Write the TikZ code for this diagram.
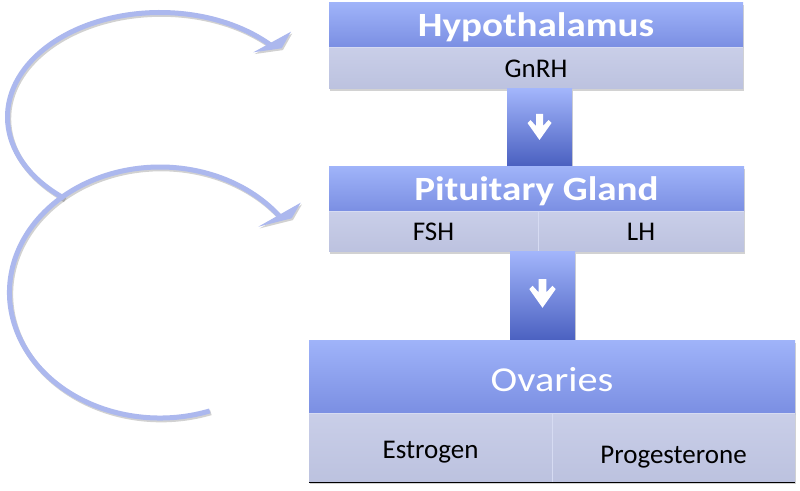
\documentclass[tikz,border=0pt]{standalone}
\usepackage{fontspec}
\setmainfont{Carlito}
\usetikzlibrary{shadows,calc}
\definecolor{tbtop}{HTML}{9FB3F9}
\definecolor{tbbot}{HTML}{7A8EE2}
\definecolor{sbtop}{HTML}{C9CEE8}
\definecolor{sbbot}{HTML}{BCC2DF}
\definecolor{cntop}{HTML}{A2B5FB}
\definecolor{cnbot}{HTML}{4A60C0}
\definecolor{arcc}{HTML}{ACB8EE}
\definecolor{sepc}{HTML}{D6DBF2}
\definecolor{baseline}{HTML}{5E72D2}
\newcommand\stretchtxt[1]{\scalebox{1.15}[1]{#1}}
\tikzset{
  x=1pt, y=1pt,
  boxshadow/.style={drop shadow={opacity=0.35, shadow xshift=1.2pt, shadow yshift=-2pt}},
  titleband/.style={rectangle, inner sep=0pt, top color=tbtop, bottom color=tbbot, text=white, boxshadow},
  subband/.style={rectangle, inner sep=0pt, top color=sbtop, bottom color=sbbot, text=black, boxshadow},
  connblock/.style={rectangle, inner sep=0pt, top color=cntop, bottom color=cnbot, boxshadow},
  titlefont/.style={font=\fontsize{34}{40}\selectfont\bfseries, text height=21.9pt, text depth=0pt},
  ovfont/.style={font=\fontsize{35}{40}\selectfont, text height=22.5pt, text depth=0pt},
  subfont/.style={font=\fontsize{27}{32}\selectfont, text height=17.4pt, text depth=0pt},
  loop/.style={draw=arcc, line width=5pt},
  loopshadow/.style={draw=black, opacity=0.18, line width=5pt},
  whitearrow/.style={fill=white},
}
\begin{document}
\begin{tikzpicture}
\useasboundingbox[fill=white] (0,0) rectangle (800,490);

% ---- feedback loops ----
\begin{scope}[shift={(1.2,-1.8)}]
  \draw[loopshadow] (160,373) ++(231:152.5 and 104.5) arc[start angle=231, end angle=43, x radius=152.5, y radius=104.5];
  \fill[black, opacity=0.18] (291,458.3) -- (281.7,441.7) -- (253.3,437.7) -- cycle;
  \draw[loopshadow] (160,197.5) ++(-70.7:150.5 and 125.5) arc[start angle=-70.7, end angle=-323, x radius=150.5, y radius=125.5];
  \fill[black, opacity=0.18] (300.7,287.3) -- (291.7,271.7) -- (258.3,263.3) -- cycle;
\end{scope}
\draw[loop] (160,373) ++(231:152.5 and 104.5) coordinate (a1start) arc[start angle=231, end angle=43, x radius=152.5, y radius=104.5] coordinate (a1end);
\fill[arcc] (291,458.3) coordinate (t1) -- (281.7,441.7) -- (253.3,437.7) -- cycle;
\draw[loop] (160,197.5) ++(-70.7:150.5 and 125.5) coordinate (a2start) arc[start angle=-70.7, end angle=-323, x radius=150.5, y radius=125.5] coordinate (a2end);
\fill[arcc] (300.7,287.3) coordinate (t2) -- (291.7,271.7) -- (258.3,263.3) -- cycle;

% ---- Hypothalamus ----
\node[titleband, titlefont, minimum width=414, minimum height=45] (hypT) at (536,464.5) {\stretchtxt{Hypothalamus}};
\node[subband, subfont, minimum width=414, minimum height=41] (hypS) at (536,421.5) {GnRH};
\draw[sepc, line width=0.8pt] (hypS.north west) -- (hypS.north east);

% ---- connector 1 ----
\node[connblock, minimum width=65, minimum height=77] (c1) at (539.5,362.5) {};
\fill[whitearrow, shift={($(c1.center)+(0,0.5)$)}]
  (-3.5,13) -- (3.5,13) -- (3.5,1) -- (9,7) -- (12,4) -- (0,-13) -- (-12,4) -- (-9,7) -- (-3.5,1) -- cycle;

% ---- Pituitary Gland ----
\node[titleband, titlefont, minimum width=415, minimum height=45] (pitT) at (536.5,300.5) {\stretchtxt{Pituitary Gland}};
\node[subband, subfont, minimum width=209, minimum height=40] (fsh) at (433.5,258) {FSH};
\node[subband, subfont, minimum width=206, minimum height=40] (lh) at (641,258) {LH};
\draw[sepc, line width=0.8pt] (fsh.north west) -- (lh.north east);
\draw[sepc, line width=0.8pt] (fsh.north east) -- (fsh.south east);

% ---- connector 2 ----
\node[connblock, minimum width=65, minimum height=89] (c2) at (542.5,193.5) {};
\fill[whitearrow, shift={($(c2.center)+(0,3)$)}, scale=1.1]
  (-3.5,13) -- (3.5,13) -- (3.5,1) -- (9,7) -- (12,4) -- (0,-13) -- (-12,4) -- (-9,7) -- (-3.5,1) -- cycle;

% ---- Ovaries ----
\node[titleband, ovfont, minimum width=486, minimum height=73] (ovT) at (552,112.5) {\raisebox{-2.5pt}{\stretchtxt{Ovaries}}};
\node[subband, subfont, minimum width=243, minimum height=68] (est) at (430.5,42) {\raisebox{-1.5pt}{Estrogen}};
\node[subband, subfont, minimum width=243, minimum height=68] (prog) at (673.5,42) {\raisebox{-6.5pt}{Progesterone}};
\draw[sepc, line width=0.8pt] (est.north west) -- (prog.north east);
\draw[sepc, line width=0.8pt] (est.north east) -- (est.south east);
\draw[baseline, line width=1.3pt] (est.south west) -- (prog.south east);
\end{tikzpicture}
\end{document}
